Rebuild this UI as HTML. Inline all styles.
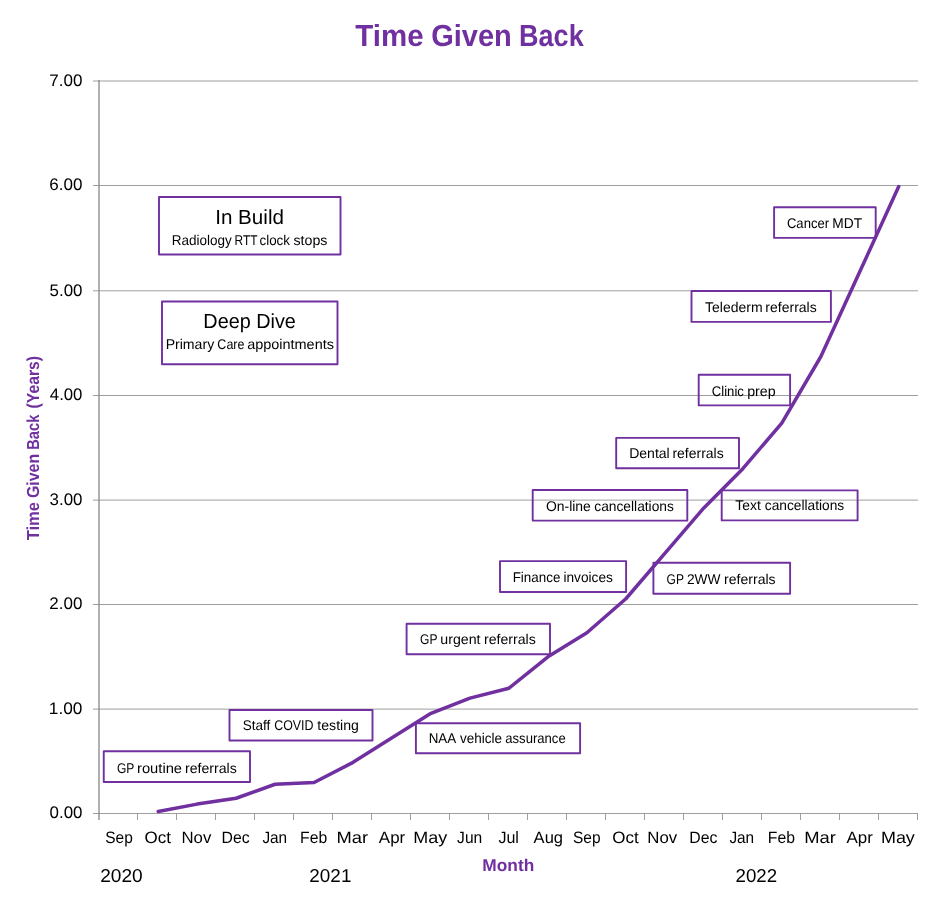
<!DOCTYPE html>
<html><head><meta charset="utf-8"><title>Time Given Back</title>
<style>
html,body{margin:0;padding:0;background:#fff;}
svg{display:block;font-family:"Liberation Sans",sans-serif;text-rendering:geometricPrecision;}
</style></head>
<body>
<svg width="940" height="901" viewBox="0 0 940 901">
<rect width="940" height="901" fill="#fff"/>
<line x1="93" x2="918.0" y1="813.50" y2="813.50" stroke="#868686" stroke-width="0.8"/>
<line x1="93" x2="918.0" y1="709.10" y2="709.10" stroke="#868686" stroke-width="0.8"/>
<line x1="93" x2="918.0" y1="604.50" y2="604.50" stroke="#868686" stroke-width="0.8"/>
<line x1="93" x2="918.0" y1="500.10" y2="500.10" stroke="#868686" stroke-width="0.8"/>
<line x1="93" x2="918.0" y1="395.50" y2="395.50" stroke="#868686" stroke-width="0.8"/>
<line x1="93" x2="918.0" y1="290.80" y2="290.80" stroke="#868686" stroke-width="0.8"/>
<line x1="93" x2="918.0" y1="185.50" y2="185.50" stroke="#868686" stroke-width="0.8"/>
<line x1="93" x2="918.0" y1="81.00" y2="81.00" stroke="#868686" stroke-width="0.8"/>
<line x1="99.0" x2="99.0" y1="80" y2="820" stroke="#868686" stroke-width="1.3"/>
<line x1="137.5" x2="137.5" y1="813.5" y2="820" stroke="#868686" stroke-width="0.8"/>
<line x1="176.5" x2="176.5" y1="813.5" y2="820" stroke="#868686" stroke-width="0.8"/>
<line x1="215.5" x2="215.5" y1="813.5" y2="820" stroke="#868686" stroke-width="0.8"/>
<line x1="254.5" x2="254.5" y1="813.5" y2="820" stroke="#868686" stroke-width="0.8"/>
<line x1="293.5" x2="293.5" y1="813.5" y2="820" stroke="#868686" stroke-width="0.8"/>
<line x1="332.5" x2="332.5" y1="813.5" y2="820" stroke="#868686" stroke-width="0.8"/>
<line x1="371.5" x2="371.5" y1="813.5" y2="820" stroke="#868686" stroke-width="0.8"/>
<line x1="410.5" x2="410.5" y1="813.5" y2="820" stroke="#868686" stroke-width="0.8"/>
<line x1="449.5" x2="449.5" y1="813.5" y2="820" stroke="#868686" stroke-width="0.8"/>
<line x1="488.5" x2="488.5" y1="813.5" y2="820" stroke="#868686" stroke-width="0.8"/>
<line x1="527.5" x2="527.5" y1="813.5" y2="820" stroke="#868686" stroke-width="0.8"/>
<line x1="566.5" x2="566.5" y1="813.5" y2="820" stroke="#868686" stroke-width="0.8"/>
<line x1="605.5" x2="605.5" y1="813.5" y2="820" stroke="#868686" stroke-width="0.8"/>
<line x1="644.5" x2="644.5" y1="813.5" y2="820" stroke="#868686" stroke-width="0.8"/>
<line x1="683.5" x2="683.5" y1="813.5" y2="820" stroke="#868686" stroke-width="0.8"/>
<line x1="722.5" x2="722.5" y1="813.5" y2="820" stroke="#868686" stroke-width="0.8"/>
<line x1="761.5" x2="761.5" y1="813.5" y2="820" stroke="#868686" stroke-width="0.8"/>
<line x1="800.5" x2="800.5" y1="813.5" y2="820" stroke="#868686" stroke-width="0.8"/>
<line x1="839.5" x2="839.5" y1="813.5" y2="820" stroke="#868686" stroke-width="0.8"/>
<line x1="878.5" x2="878.5" y1="813.5" y2="820" stroke="#868686" stroke-width="0.8"/>
<line x1="917.5" x2="917.5" y1="813.5" y2="820" stroke="#868686" stroke-width="0.8"/>
<text y="818.35" font-size="16.7"><tspan x="49.54" textLength="32.92" lengthAdjust="spacingAndGlyphs">0.00</tspan></text>
<text y="713.95" font-size="16.7"><tspan x="48.89" textLength="33.59" lengthAdjust="spacingAndGlyphs">1.00</tspan></text>
<text y="609.35" font-size="16.7"><tspan x="49.34" textLength="33.12" lengthAdjust="spacingAndGlyphs">2.00</tspan></text>
<text y="504.95" font-size="16.7"><tspan x="49.56" textLength="32.90" lengthAdjust="spacingAndGlyphs">3.00</tspan></text>
<text y="400.35" font-size="16.7"><tspan x="49.82" textLength="32.64" lengthAdjust="spacingAndGlyphs">4.00</tspan></text>
<text y="295.65" font-size="16.7"><tspan x="49.52" textLength="32.94" lengthAdjust="spacingAndGlyphs">5.00</tspan></text>
<text y="190.35" font-size="16.7"><tspan x="49.34" textLength="33.13" lengthAdjust="spacingAndGlyphs">6.00</tspan></text>
<text y="85.85" font-size="16.7"><tspan x="49.33" textLength="33.14" lengthAdjust="spacingAndGlyphs">7.00</tspan></text>
<text y="843.10" font-size="16.5"><tspan x="105.28" textLength="27.55" lengthAdjust="spacingAndGlyphs">Sep</tspan></text>
<text y="843.10" font-size="16.5"><tspan x="144.51" textLength="26.43" lengthAdjust="spacingAndGlyphs">Oct</tspan></text>
<text y="843.10" font-size="16.5"><tspan x="181.46" textLength="29.83" lengthAdjust="spacingAndGlyphs">Nov</tspan></text>
<text y="843.10" font-size="16.5"><tspan x="221.52" textLength="28.11" lengthAdjust="spacingAndGlyphs">Dec</tspan></text>
<text y="843.10" font-size="16.5"><tspan x="262.40" textLength="24.74" lengthAdjust="spacingAndGlyphs">Jan</tspan></text>
<text y="843.10" font-size="16.5"><tspan x="300.08" textLength="27.15" lengthAdjust="spacingAndGlyphs">Feb</tspan></text>
<text y="843.10" font-size="16.5"><tspan x="336.54" textLength="31.61" lengthAdjust="spacingAndGlyphs">Mar</tspan></text>
<text y="843.10" font-size="16.5"><tspan x="378.89" textLength="26.31" lengthAdjust="spacingAndGlyphs">Apr</tspan></text>
<text y="843.10" font-size="16.5"><tspan x="413.23" textLength="33.91" lengthAdjust="spacingAndGlyphs">May</tspan></text>
<text y="843.10" font-size="16.5"><tspan x="457.08" textLength="25.16" lengthAdjust="spacingAndGlyphs">Jun</tspan></text>
<text y="843.10" font-size="16.5"><tspan x="498.40" textLength="20.52" lengthAdjust="spacingAndGlyphs">Jul</tspan></text>
<text y="843.10" font-size="16.5"><tspan x="533.64" textLength="29.40" lengthAdjust="spacingAndGlyphs">Aug</tspan></text>
<text y="843.10" font-size="16.5"><tspan x="573.00" textLength="27.55" lengthAdjust="spacingAndGlyphs">Sep</tspan></text>
<text y="843.10" font-size="16.5"><tspan x="612.22" textLength="26.43" lengthAdjust="spacingAndGlyphs">Oct</tspan></text>
<text y="843.10" font-size="16.5"><tspan x="647.38" textLength="29.83" lengthAdjust="spacingAndGlyphs">Nov</tspan></text>
<text y="843.10" font-size="16.5"><tspan x="689.23" textLength="28.11" lengthAdjust="spacingAndGlyphs">Dec</tspan></text>
<text y="843.10" font-size="16.5"><tspan x="729.42" textLength="24.74" lengthAdjust="spacingAndGlyphs">Jan</tspan></text>
<text y="843.10" font-size="16.5"><tspan x="767.79" textLength="27.15" lengthAdjust="spacingAndGlyphs">Feb</tspan></text>
<text y="843.10" font-size="16.5"><tspan x="804.25" textLength="31.61" lengthAdjust="spacingAndGlyphs">Mar</tspan></text>
<text y="843.10" font-size="16.5"><tspan x="846.60" textLength="26.31" lengthAdjust="spacingAndGlyphs">Apr</tspan></text>
<text y="843.10" font-size="16.5"><tspan x="880.94" textLength="33.91" lengthAdjust="spacingAndGlyphs">May</tspan></text>
<text y="882.10" font-size="18.6"><tspan x="100.24" textLength="42.51" lengthAdjust="spacingAndGlyphs">2020</tspan></text>
<text y="882.10" font-size="18.6"><tspan x="309.35" textLength="42.07" lengthAdjust="spacingAndGlyphs">2021</tspan></text>
<text y="882.10" font-size="18.6"><tspan x="735.56" textLength="41.58" lengthAdjust="spacingAndGlyphs">2022</tspan></text>
<text y="870.60" font-size="17.0" font-weight="bold" fill="#7030A0"><tspan x="482.34" textLength="51.93" lengthAdjust="spacingAndGlyphs">Month</tspan></text>
<text y="45.50" font-size="30.5" font-weight="bold" fill="#7030A0"><tspan x="355.37" textLength="68.23" lengthAdjust="spacingAndGlyphs">Time</tspan> <tspan x="431.21" textLength="80.59" lengthAdjust="spacingAndGlyphs">Given</tspan> <tspan x="519.09" textLength="64.58" lengthAdjust="spacingAndGlyphs">Back</tspan></text>
<text transform="translate(39.30,540.10) rotate(-90)" y="0" font-size="17.4" font-weight="bold" fill="#7030A0"><tspan x="-0.18" textLength="38.24" lengthAdjust="spacingAndGlyphs">Time</tspan> <tspan x="42.05" textLength="44.24" lengthAdjust="spacingAndGlyphs">Given</tspan> <tspan x="90.42" textLength="34.96" lengthAdjust="spacingAndGlyphs">Back</tspan> <tspan x="131.73" textLength="52.44" lengthAdjust="spacingAndGlyphs">(Years)</tspan></text>
<polyline points="158.16,811.41 197.14,804.10 236.12,798.26 275.09,784.27 314.07,782.49 353.05,762.34 392.02,737.81 431.00,713.28 469.97,698.12 508.95,688.18 547.93,656.80 586.90,632.74 625.88,598.76 664.85,553.34 703.83,507.93 742.81,468.72 781.78,423.11 820.76,356.76 859.74,271.85 898.71,186.55" fill="none" stroke="#7030A0" stroke-width="3.5" stroke-linejoin="round" stroke-linecap="round"/>
<rect x="159" y="197" width="181.50" height="57.50" fill="none" stroke="#7030A0" stroke-width="1.9" stroke-linejoin="round"/>
<text y="223.80" font-size="20.4"><tspan x="215.20" textLength="68.73" lengthAdjust="spacingAndGlyphs">In Build</tspan></text>
<text y="244.50" font-size="14.1"><tspan x="171.69" textLength="60.03" lengthAdjust="spacingAndGlyphs">Radiology</tspan> <tspan x="234.54" textLength="22.73" lengthAdjust="spacingAndGlyphs">RTT</tspan> <tspan x="259.53" textLength="30.45" lengthAdjust="spacingAndGlyphs">clock</tspan> <tspan x="293.51" textLength="33.91" lengthAdjust="spacingAndGlyphs">stops</tspan></text>
<rect x="162" y="301.5" width="175.50" height="62.75" fill="none" stroke="#7030A0" stroke-width="1.9" stroke-linejoin="round"/>
<text y="328.30" font-size="20.4"><tspan x="203.37" textLength="92.51" lengthAdjust="spacingAndGlyphs">Deep Dive</tspan></text>
<text y="349.00" font-size="14.1"><tspan x="165.64" textLength="48.58" lengthAdjust="spacingAndGlyphs">Primary</tspan> <tspan x="217.37" textLength="27.09" lengthAdjust="spacingAndGlyphs">Care</tspan> <tspan x="247.19" textLength="86.74" lengthAdjust="spacingAndGlyphs">appointments</tspan></text>
<rect x="103.75" y="751.25" width="146.25" height="30.75" fill="none" stroke="#7030A0" stroke-width="1.9" stroke-linejoin="round"/>
<text y="772.50" font-size="14.1"><tspan x="116.90" textLength="17.17" lengthAdjust="spacingAndGlyphs">GP</tspan> <tspan x="137.03" textLength="45.04" lengthAdjust="spacingAndGlyphs">routine</tspan> <tspan x="185.05" textLength="51.71" lengthAdjust="spacingAndGlyphs">referrals</tspan></text>
<rect x="229.5" y="710" width="143.00" height="30.50" fill="none" stroke="#7030A0" stroke-width="1.9" stroke-linejoin="round"/>
<text y="730.00" font-size="14.1"><tspan x="242.64" textLength="27.57" lengthAdjust="spacingAndGlyphs">Staff</tspan> <tspan x="274.18" textLength="39.37" lengthAdjust="spacingAndGlyphs">COVID</tspan> <tspan x="317.32" textLength="41.59" lengthAdjust="spacingAndGlyphs">testing</tspan></text>
<rect x="406.6" y="623.8" width="143.40" height="30.40" fill="none" stroke="#7030A0" stroke-width="1.9" stroke-linejoin="round"/>
<text y="644.00" font-size="14.1"><tspan x="420.10" textLength="17.18" lengthAdjust="spacingAndGlyphs">GP</tspan> <tspan x="440.31" textLength="40.22" lengthAdjust="spacingAndGlyphs">urgent</tspan> <tspan x="484.06" textLength="51.75" lengthAdjust="spacingAndGlyphs">referrals</tspan></text>
<rect x="415.9" y="723.2" width="164.20" height="30.10" fill="none" stroke="#7030A0" stroke-width="1.9" stroke-linejoin="round"/>
<text y="743.20" font-size="14.1"><tspan x="428.73" textLength="26.75" lengthAdjust="spacingAndGlyphs">NAA</tspan> <tspan x="459.97" textLength="41.93" lengthAdjust="spacingAndGlyphs">vehicle</tspan> <tspan x="505.30" textLength="60.38" lengthAdjust="spacingAndGlyphs">assurance</tspan></text>
<rect x="500" y="561.1" width="126.10" height="30.90" fill="none" stroke="#7030A0" stroke-width="1.9" stroke-linejoin="round"/>
<text y="581.90" font-size="14.1"><tspan x="512.70" textLength="47.67" lengthAdjust="spacingAndGlyphs">Finance</tspan> <tspan x="563.46" textLength="49.43" lengthAdjust="spacingAndGlyphs">invoices</tspan></text>
<rect x="653.4" y="562.8" width="136.70" height="31.00" fill="none" stroke="#7030A0" stroke-width="1.9" stroke-linejoin="round"/>
<text y="583.60" font-size="14.1"><tspan x="666.60" textLength="17.11" lengthAdjust="spacingAndGlyphs">GP</tspan> <tspan x="686.95" textLength="33.57" lengthAdjust="spacingAndGlyphs">2WW</tspan> <tspan x="724.08" textLength="51.52" lengthAdjust="spacingAndGlyphs">referrals</tspan></text>
<rect x="532.7" y="490" width="154.60" height="30.60" fill="none" stroke="#7030A0" stroke-width="1.9" stroke-linejoin="round"/>
<text y="510.50" font-size="14.1"><tspan x="545.94" textLength="44.90" lengthAdjust="spacingAndGlyphs">On-line</tspan> <tspan x="594.25" textLength="79.65" lengthAdjust="spacingAndGlyphs">cancellations</tspan></text>
<rect x="721.7" y="490.4" width="135.90" height="30.00" fill="none" stroke="#7030A0" stroke-width="1.9" stroke-linejoin="round"/>
<text y="510.30" font-size="14.1"><tspan x="735.31" textLength="25.54" lengthAdjust="spacingAndGlyphs">Text</tspan> <tspan x="764.77" textLength="79.43" lengthAdjust="spacingAndGlyphs">cancellations</tspan></text>
<rect x="616.2" y="437.9" width="122.80" height="30.30" fill="none" stroke="#7030A0" stroke-width="1.9" stroke-linejoin="round"/>
<text y="458.00" font-size="14.1"><tspan x="629.15" textLength="40.61" lengthAdjust="spacingAndGlyphs">Dental</tspan> <tspan x="672.42" textLength="51.29" lengthAdjust="spacingAndGlyphs">referrals</tspan></text>
<rect x="698.7" y="374.8" width="91.40" height="30.60" fill="none" stroke="#7030A0" stroke-width="1.9" stroke-linejoin="round"/>
<text y="395.50" font-size="14.1"><tspan x="711.83" textLength="32.05" lengthAdjust="spacingAndGlyphs">Clinic</tspan> <tspan x="747.17" textLength="28.53" lengthAdjust="spacingAndGlyphs">prep</tspan></text>
<rect x="691.5" y="291" width="139.40" height="30.90" fill="none" stroke="#7030A0" stroke-width="1.9" stroke-linejoin="round"/>
<text y="311.50" font-size="14.1"><tspan x="705.09" textLength="57.57" lengthAdjust="spacingAndGlyphs">Telederm</tspan> <tspan x="765.37" textLength="51.34" lengthAdjust="spacingAndGlyphs">referrals</tspan></text>
<rect x="774.1" y="207.3" width="101.60" height="30.60" fill="none" stroke="#7030A0" stroke-width="1.9" stroke-linejoin="round"/>
<text y="227.80" font-size="14.1"><tspan x="786.94" textLength="42.09" lengthAdjust="spacingAndGlyphs">Cancer</tspan> <tspan x="832.31" textLength="29.81" lengthAdjust="spacingAndGlyphs">MDT</tspan></text>
</svg>
</body></html>
